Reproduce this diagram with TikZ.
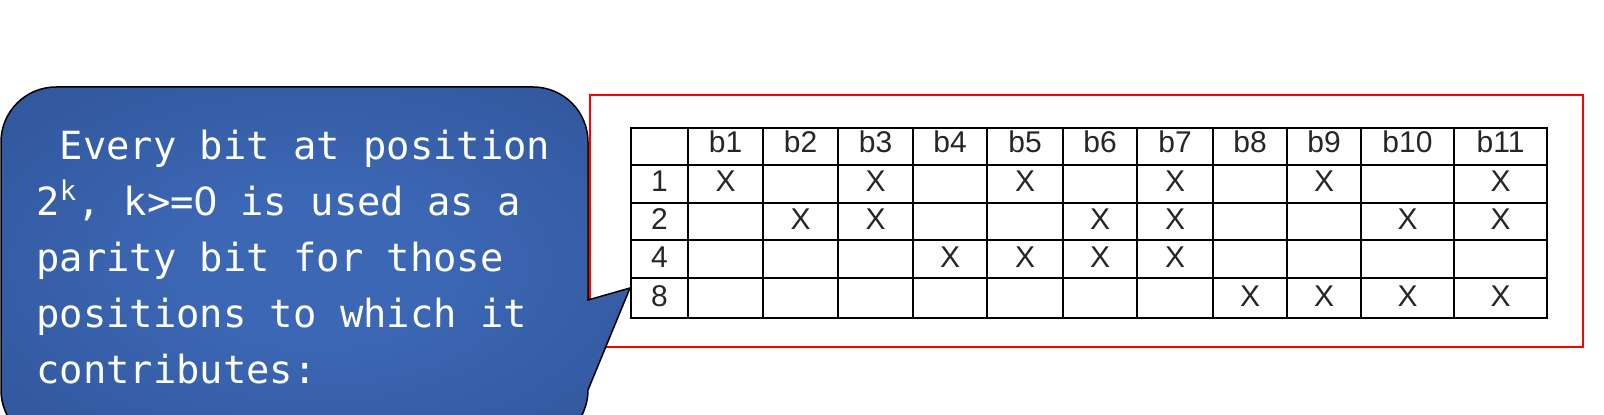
\documentclass[tikz,border=0pt]{standalone}
\usepackage{fontspec}
\setmainfont{Liberation Sans}
\newfontfamily\notefont{DejaVu Sans Mono}
\newfontfamily\zerofont{DejaVu Sans}
\definecolor{notelight}{RGB}{60,103,180}
\definecolor{notedark}{RGB}{44,80,146}
\pgfdeclareradialshading{notefill}{\pgfpoint{0bp}{0bp}}{%
    color(0bp)=(notelight); color(10bp)=(notelight); color(45bp)=(notedark); color(72bp)=(notedark)}
\newcommand{\plainzero}{\makebox[0.602em]{\zerofont 0}}

\begin{document}
\begin{tikzpicture}[
    x=0.5pt,
    y=-0.5pt,
    grid lines/.style={
        color=black,
        line width=1.1pt
    },
    cell/.style={
        anchor=base,
        inner sep=0pt,
        font=\fontsize{15}{18}\selectfont,
        text=black!85
    },
    note/.style={
        anchor=base west,
        inner sep=0pt,
        font=\notefont\fontsize{19.4}{28}\selectfont,
        text=white
    }
]

% bounding box
\clip (0,0) rectangle (1604,415);

% frame
\draw[red, line width=0.75pt] (590,95) rectangle (1583,347);

% callout
\shadedraw[shading=notefill, draw=black, line width=0.75pt]
    (56,87) -- (533,87) arc[start angle=90, end angle=0, radius=27.5pt]
    -- (588,300) -- (630,288) -- (588,390)
    arc[start angle=0, end angle=-90, radius=27.5pt]
    -- (56,445) arc[start angle=270, end angle=180, radius=27.5pt]
    -- (1,142) arc[start angle=180, end angle=90, radius=27.5pt] -- cycle;

\draw (36,160) node[note] (line1) {~Every bit at position};
\draw (36,216) node[note] (line2) {2\textsuperscript{k}, k>=\plainzero{} is used as a};
\draw (36,272) node[note] (line3) {parity bit for those};
\draw (36,328) node[note] (line4) {positions to which it};
\draw (36,384) node[note] (line5) {contributes:};

% table
\draw[style=grid lines] (631,128) rectangle (1547,318);
\draw[style=grid lines] (688,128) -- (688,318);
\draw[style=grid lines] (763,128) -- (763,318);
\draw[style=grid lines] (838,128) -- (838,318);
\draw[style=grid lines] (913,128) -- (913,318);
\draw[style=grid lines] (987,128) -- (987,318);
\draw[style=grid lines] (1063,128) -- (1063,318);
\draw[style=grid lines] (1137,128) -- (1137,318);
\draw[style=grid lines] (1213,128) -- (1213,318);
\draw[style=grid lines] (1287,128) -- (1287,318);
\draw[style=grid lines] (1361,128) -- (1361,318);
\draw[style=grid lines] (1454,128) -- (1454,318);

\draw[style=grid lines] (631,165) -- (1547,165);
\draw[style=grid lines] (631,203) -- (1547,203);
\draw[style=grid lines] (631,240) -- (1547,240);
\draw[style=grid lines] (631,278) -- (1547,278);

% header
\draw (725.5,153) node[cell] (b1) {b1};
\draw (800.5,153) node[cell] (b2) {b2};
\draw (875.5,153) node[cell] (b3) {b3};
\draw (950,153) node[cell] (b4) {b4};
\draw (1025,153) node[cell] (b5) {b5};
\draw (1100,153) node[cell] (b6) {b6};
\draw (1175,153) node[cell] (b7) {b7};
\draw (1250,153) node[cell] (b8) {b8};
\draw (1324,153) node[cell] (b9) {b9};
\draw (1407.5,153) node[cell] (b10) {b10};
\draw (1500.5,153) node[cell] (b11) {b11};

\draw (659.5,192) node[cell] (p1) {1};
\draw (659.5,230) node[cell] (p2) {2};
\draw (659.5,268) node[cell] (p4) {4};
\draw (659.5,307) node[cell] (p8) {8};

% marks
\draw (725.5,192) node[cell] (p1b1) {X};
\draw (875.5,192) node[cell] (p1b3) {X};
\draw (1025,192) node[cell] (p1b5) {X};
\draw (1175,192) node[cell] (p1b7) {X};
\draw (1324,192) node[cell] (p1b9) {X};
\draw (1500.5,192) node[cell] (p1b11) {X};

\draw (800.5,230) node[cell] (p2b2) {X};
\draw (875.5,230) node[cell] (p2b3) {X};
\draw (1100,230) node[cell] (p2b6) {X};
\draw (1175,230) node[cell] (p2b7) {X};
\draw (1407.5,230) node[cell] (p2b10) {X};
\draw (1500.5,230) node[cell] (p2b11) {X};

\draw (950,268) node[cell] (p4b4) {X};
\draw (1025,268) node[cell] (p4b5) {X};
\draw (1100,268) node[cell] (p4b6) {X};
\draw (1175,268) node[cell] (p4b7) {X};

\draw (1250,307) node[cell] (p8b8) {X};
\draw (1324,307) node[cell] (p8b9) {X};
\draw (1407.5,307) node[cell] (p8b10) {X};
\draw (1500.5,307) node[cell] (p8b11) {X};

\end{tikzpicture}
\end{document}
